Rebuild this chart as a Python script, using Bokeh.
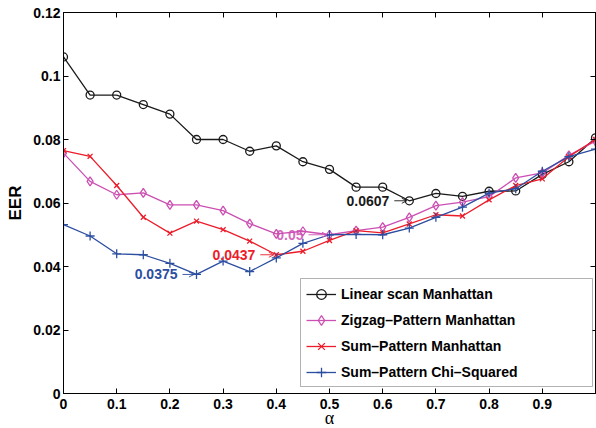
from bokeh.plotting import figure
from bokeh.models import (Range1d, FixedTicker, LinearAxis, Legend, LegendItem,
                          BoxAnnotation, Arrow, OpenHead, ColumnDataSource)
from bokeh.core.properties import value
from bokeh.embed import file_html
from bokeh.resources import INLINE

# alpha sweep and EER per method
alpha = [0.0, 0.05, 0.1, 0.15, 0.2, 0.25, 0.3, 0.35, 0.4, 0.45, 0.5,
         0.55, 0.6, 0.65, 0.7, 0.75, 0.8, 0.85, 0.9, 0.95, 1.0]
linear_manhattan = [0.106, 0.094, 0.094, 0.091, 0.088, 0.080, 0.080, 0.0763, 0.078, 0.073, 0.0706,
                    0.065, 0.065, 0.0607, 0.063, 0.0621, 0.0637, 0.0638, 0.069, 0.073, 0.0805]
zigzag_manhattan = [0.0757, 0.0668, 0.0626, 0.0632, 0.0594, 0.0594, 0.0576, 0.0535, 0.0503, 0.0511, 0.050,
                    0.0513, 0.0524, 0.0555, 0.0592, 0.0603, 0.062, 0.0679, 0.0695, 0.075, 0.0795]
sum_manhattan = [0.0765, 0.0747, 0.0655, 0.0555, 0.0505, 0.0543, 0.0516, 0.048, 0.0437, 0.0448, 0.0482,
                 0.0513, 0.0506, 0.0534, 0.0563, 0.0559, 0.061, 0.0655, 0.0676, 0.0746, 0.080]
sum_chi_squared = [0.0532, 0.0496, 0.044, 0.0437, 0.041, 0.0375, 0.0417, 0.0384, 0.0427, 0.0473, 0.050,
                   0.0501, 0.050, 0.0521, 0.0555, 0.0587, 0.0631, 0.0645, 0.070, 0.0746, 0.077]

series_names = ["Linear scan Manhattan", "Zigzag\u2013Pattern Manhattan",
                "Sum\u2013Pattern Manhattan", "Sum\u2013Pattern Chi\u2013Squared"]
series_values = [linear_manhattan, zigzag_manhattan, sum_manhattan, sum_chi_squared]
series_colors = ["#1a1a1a", "#cc4fb2", "#ec1c2a", "#2c4ea0"]
series_markers = ["circle", "diamond", "x", "cross"]
series_sizes = [8, 9, 7, 9]
# index of the annotated point of each series
annot_index = [13, 10, 8, 5]
annot_text_gap = [20, 26, 21, 19]

x_ticks = [0, 0.1, 0.2, 0.3, 0.4, 0.5, 0.6, 0.7, 0.8, 0.9]
x_tick_labels = ["0", "0.1", "0.2", "0.3", "0.4", "0.5", "0.6", "0.7", "0.8", "0.9"]
y_ticks = [0, 0.02, 0.04, 0.06, 0.08, 0.1, 0.12]
y_tick_labels = ["0", "0.02", "0.04", "0.06", "0.08", "0.1", "0.12"]

FONT = "Liberation Sans"
FRAME_W, FRAME_H = 532, 381

p = figure(width=596, height=428, frame_width=FRAME_W, frame_height=FRAME_H,
           output_backend="svg", toolbar_location=None,
           x_range=Range1d(0, 1.0), y_range=Range1d(0, 0.12),
           min_border_left=63, min_border_right=1, min_border_top=12, min_border_bottom=35)
p.background_fill_color = "white"
p.border_fill_color = "white"
p.grid.visible = False
p.outline_line_color = "black"
p.outline_line_width = 1

for ax, ticks, labels in ((p.xaxis[0], x_ticks, x_tick_labels), (p.yaxis[0], y_ticks, y_tick_labels)):
    ax.ticker = FixedTicker(ticks=ticks)
    ax.major_label_overrides = {t: l for t, l in zip(ticks, labels)}
    ax.major_tick_in = 5
    ax.major_tick_out = 0
    ax.minor_tick_line_color = None
    ax.axis_line_color = "black"
    ax.major_tick_line_color = "black"
    ax.major_label_text_font = FONT
    ax.major_label_text_font_style = "bold"
    ax.major_label_text_font_size = "14px"
    ax.major_label_text_color = "black"

p.xaxis.major_label_standoff = 5
p.yaxis.major_label_standoff = 3
p.xaxis.axis_label = "\u03b1"
p.xaxis.axis_label_text_font = "Liberation Serif"
p.xaxis.axis_label_text_font_style = "normal"
p.xaxis.axis_label_text_font_size = "18px"
p.xaxis.axis_label_text_color = "black"
p.xaxis.axis_label_standoff = -4
p.yaxis.axis_label = "EER"
p.yaxis.axis_label_text_font = FONT
p.yaxis.axis_label_text_font_style = "bold"
p.yaxis.axis_label_text_font_size = "17px"
p.yaxis.axis_label_text_color = "black"
p.yaxis.axis_label_standoff = 5

# inward ticks on the right and top edges of the box
for side, ticks in (("right", y_ticks), ("above", x_ticks)):
    ax = LinearAxis(ticker=FixedTicker(ticks=ticks), major_tick_in=5, major_tick_out=0,
                    minor_tick_line_color=None, axis_line_color="black",
                    major_label_text_font_size="0px", major_label_standoff=0)
    ax.major_label_overrides = {t: "" for t in ticks}
    p.add_layout(ax, side)

items = []
for name, vals, color, marker, size in zip(series_names, series_values, series_colors,
                                            series_markers, series_sizes):
    src = ColumnDataSource(dict(x=alpha, y=vals))
    ln = p.line("x", "y", source=src, line_color=color, line_width=1.3)
    sc = p.scatter("x", "y", source=src, marker=marker, size=size, line_color=color,
                   fill_color=None, line_width=1.3)
    items.append(LegendItem(label=name, renderers=[ln, sc]))

# value call-outs with a short arrow pointing at the marked point
px = 1.0 / FRAME_W
for vals, color, idx, gap in zip(series_values, series_colors, annot_index, annot_text_gap):
    xv, yv = alpha[idx], vals[idx]
    p.text(x=[xv], y=[yv], text=[f"{yv:g}"], x_offset=-gap, text_align="right",
           text_baseline="middle", text_color=color, text_font=value(FONT),
           text_font_style="bold", text_font_size="14px",
           text_alpha=0.85 if color == "#cc4fb2" else 1.0)
    p.add_layout(Arrow(x_start=xv - (gap - 5) * px, y_start=yv, x_end=xv - 2.5 * px, y_end=yv,
                       line_color=color, line_width=0.9,
                       end=OpenHead(size=5, line_color=color, line_width=0.9)))

# legend frame
p.add_layout(BoxAnnotation(left=(300 - 63) * px, right=(592 - 63) * px,
                           bottom=(393 - 386) / FRAME_H * 0.12, top=(393 - 278) / FRAME_H * 0.12,
                           fill_color="white", fill_alpha=1.0, line_color="black", line_width=1,
                           level="overlay"))

legend = Legend(items=items, location=(238, 4), orientation="vertical",
                border_line_alpha=0, background_fill_alpha=0, margin=0, padding=5,
                glyph_width=30, glyph_height=24, label_height=24, spacing=2,
                label_standoff=5, label_text_font=FONT, label_text_font_style="bold",
                label_text_font_size="14px", label_text_color="black")
p.add_layout(legend)

open("out.html", "w").write(file_html(p, INLINE))
